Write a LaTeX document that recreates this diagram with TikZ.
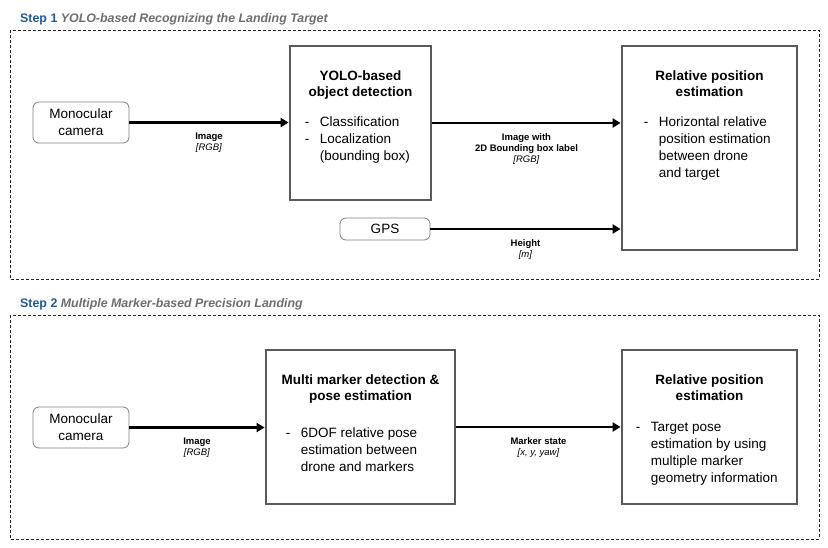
\documentclass[tikz,border=0pt]{standalone}
\usepackage{fontspec}
\setmainfont{Liberation Sans}
\usetikzlibrary{arrows.meta, positioning}
\definecolor{stepblue}{HTML}{1F5A96}
\definecolor{stepgray}{HTML}{6E6E6E}
\definecolor{boxgray}{HTML}{5A5A5A}
\definecolor{rimgray}{HTML}{7F7F7F}
\newcommand{\titlelines}[1]{\begin{tabular}[t]{@{}c@{}}#1\end{tabular}}
\newcommand{\dashlist}[1]{\begin{tabular}[t]{@{}p{15pt}@{}l@{}}#1\end{tabular}}
\tikzset{
  stepframe/.style={
    draw=black!85, line width=0.8pt,
    dash pattern=on 3pt off 2pt
  },
  steptitle/.style={
    anchor=base west, inner sep=0pt,
    font=\fontsize{12.4}{14}\selectfont\bfseries
  },
  srcbox/.style={
    rectangle, rounded corners=6pt,
    draw=rimgray, line width=0.8pt,
    align=center, inner sep=0pt,
    font=\fontsize{13.5}{17}\selectfont
  },
  procbox/.style={
    rectangle, draw=boxgray, line width=2.8pt
  },
  boxtitle/.style={
    anchor=base, inner sep=0pt,
    font=\fontsize{13.5}{16}\selectfont\bfseries
  },
  boxlist/.style={
    anchor=base west, inner sep=0pt,
    font=\fontsize{13.5}{17}\selectfont
  },
  arrow/.style={
    -{Triangle[length=8pt, width=9pt]},
    line width=2.6pt
  },
  edgelabel/.style={
    below=6pt, align=center,
    font=\fontsize{9.5}{11}\selectfont
  }
}

\begin{document}
\begin{tikzpicture}[x=1pt, y=-1pt]
\useasboundingbox (0,0) rectangle (828,548);

%------------------------------------------------------
% STEP 1
%------------------------------------------------------

\draw[stepframe] (10,30) rectangle (819,279);
\node[steptitle] (title1) at (20,22.5)
  {\textcolor{stepblue}{Step 1} \textcolor{stepgray}{\itshape YOLO-based Recognizing the Landing Target}};

% camera
\node[srcbox, minimum width=96pt, minimum height=41pt] (cam1) at (81,122.5)
  {Monocular\\camera};

% YOLO detection
\node[procbox, minimum width=141pt, minimum height=154pt] (yolo) at (360.5,123) {};
\node[boxtitle] at ([yshift=-35.5pt]yolo.north)
  {\titlelines{YOLO-based\\object detection}};
\node[boxlist] at ([xshift=16pt, yshift=-82pt]yolo.north west)
  {\dashlist{- & Classification\\- & Localization\\ & (bounding box)}};

% relative position (step 1)
\node[procbox, minimum width=175pt, minimum height=204pt] (relpos1) at (709.5,148) {};
\node[boxtitle] at ([yshift=-35.5pt]relpos1.north)
  {\titlelines{Relative position\\estimation}};
\node[boxlist] at ([xshift=23pt, yshift=-82pt]relpos1.north west)
  {\dashlist{- & Horizontal relative\\ & position estimation\\ & between drone\\ & and target}};

% GPS
\node[srcbox, minimum width=90pt, minimum height=22pt] (gps) at (385,229) {GPS};

%------------------------------------------------------
% STEP 2
%------------------------------------------------------

\draw[stepframe] (10,315) rectangle (819,539);
\node[steptitle] (title2) at (20,307.8)
  {\textcolor{stepblue}{Step 2} \textcolor{stepgray}{\itshape Multiple Marker-based Precision Landing}};

% camera
\node[srcbox, minimum width=96pt, minimum height=41pt] (cam2) at (81,427.5)
  {Monocular\\camera};

% marker detection
\node[procbox, minimum width=189pt, minimum height=154pt] (marker) at (360.5,427) {};
\node[boxtitle] at ([yshift=-36pt]marker.north)
  {\titlelines{Multi marker detection \&\\pose estimation}};
\node[boxlist] at ([xshift=21pt, yshift=-88.5pt]marker.north west)
  {\dashlist{- & 6DOF relative pose\\ & estimation between\\ & drone and markers}};

% relative position (step 2)
\node[procbox, minimum width=175pt, minimum height=154pt] (relpos2) at (709.5,427) {};
\node[boxtitle] at ([yshift=-36pt]relpos2.north)
  {\titlelines{Relative position\\estimation}};
\node[boxlist] at ([xshift=15pt, yshift=-82.5pt]relpos2.north west)
  {\dashlist{- & Target pose\\ & estimation by using\\ & multiple marker\\ & geometry information}};

%------------------------------------------------------
% EDGES
%------------------------------------------------------

\draw[arrow] (cam1.east) -- (cam1.east -| yolo.west)
  node[edgelabel, midway] {\textbf{Image}\\\textit{[RGB]}};
\draw[arrow] (yolo.east) -- (yolo.east -| relpos1.west)
  node[edgelabel, midway] {\textbf{Image with}\\\textbf{2D Bounding box label}\\\textit{[RGB]}};
\draw[arrow] (gps.east) -- (gps.east -| relpos1.west)
  node[edgelabel, midway] {\textbf{Height}\\\textit{[m]}};
\draw[arrow] (cam2.east) -- (cam2.east -| marker.west)
  node[edgelabel, midway] {\textbf{Image}\\\textit{[RGB]}};
\draw[arrow] (marker.east) -- (marker.east -| relpos2.west)
  node[edgelabel, midway] {\textbf{Marker state}\\\textit{[x, y, yaw]}};

\end{tikzpicture}
\end{document}
